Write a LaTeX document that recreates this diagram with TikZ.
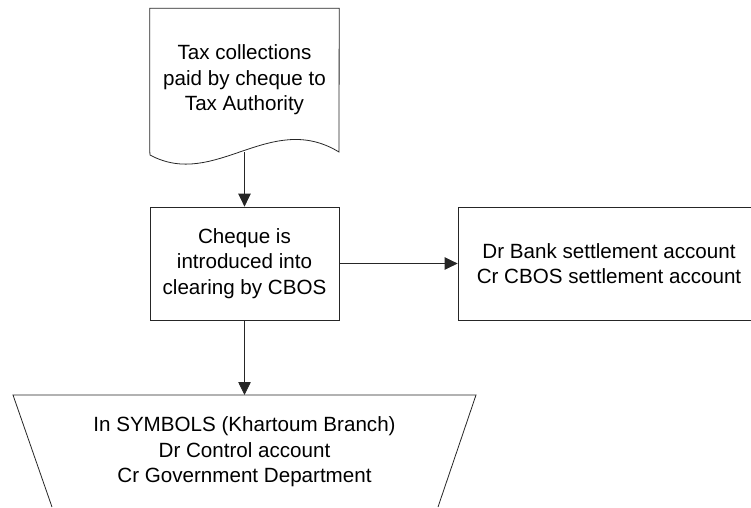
\documentclass[tikz,border=0pt]{standalone}
\usepackage{fontspec}
\setmainfont{Liberation Sans}
\usetikzlibrary{arrows.meta}
\begin{document}
\begin{tikzpicture}[x=1pt,y=-1pt,
  shapeline/.style={draw=black!85, line width=0.8pt},
  txt/.style={align=center, font=\fontsize{20.6}{25.5}\selectfont, inner sep=0pt},
  conn/.style={draw=black!85, line width=0.8pt, -{Triangle[length=13pt,width=12.5pt]}}]
\useasboundingbox (0,0) rectangle (751,507);
\clip (0,0) rectangle (751,507);
% document shape
\node[txt, minimum width=189pt, minimum height=143pt] (doc) at (244.5,80) {Tax collections\\paid by cheque to\\Tax Authority};
\draw[shapeline] (doc.south west) -- (doc.north west) -- (doc.north east) -- (339,152)
  .. controls (270,110) and (215,190) .. (150,155) -- cycle;
\coordinate (docout) at (244.5,152);
% process box
\node[txt, shapeline, minimum width=189pt, minimum height=113pt] (box) at (244.5,263.5) {Cheque is\\introduced into\\clearing by CBOS};
% right box
\node[txt, shapeline, minimum width=302pt, minimum height=113pt] (bank) at (609,263.5) {Dr Bank settlement account\\Cr CBOS settlement account};
% trapezoid
\node[txt] (sym) at (244.5,452) {In SYMBOLS (Khartoum Branch)\\Dr Control account\\Cr Government Department};
\coordinate (traptop) at (244.5,395);
\draw[shapeline] (52,507) -- (13,395) -- (476,395) -- (438,507);
% connectors
\draw[conn] (docout) -- (box.north);
\draw[conn] (box.east) -- (bank.west);
\draw[conn] (box.south) -- (traptop);
\end{tikzpicture}
\end{document}
